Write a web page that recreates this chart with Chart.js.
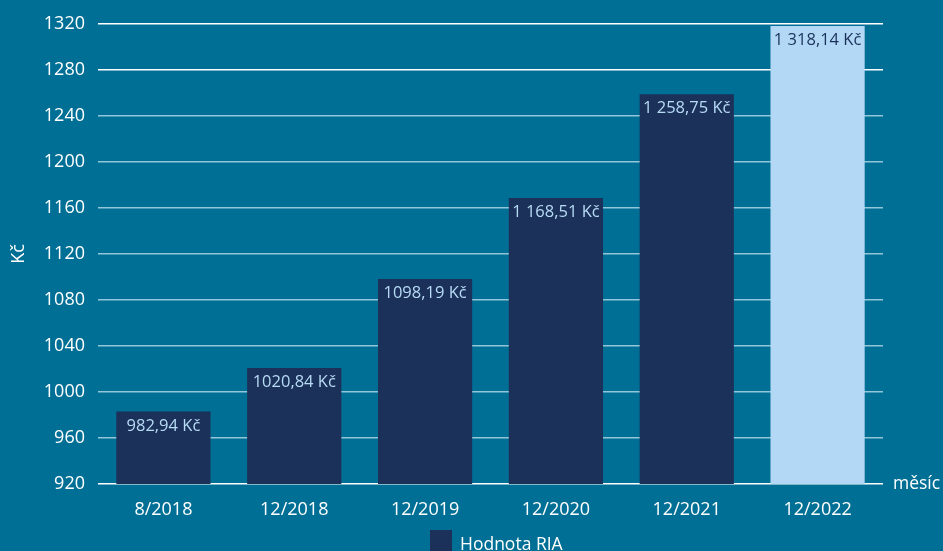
<!DOCTYPE html>
<html>
<head>
<meta charset="utf-8">
<script src="https://cdn.jsdelivr.net/npm/chart.js@4/dist/chart.umd.min.js"></script>
<style>
  html, body { margin: 0; padding: 0; background: #006f95; overflow: hidden; }
  #wrap { position: relative; width: 943px; height: 570px; }
</style>
</head>
<body>
<div id="wrap"><canvas id="bar-chart"></canvas></div>
<script>
const months = ["8/2018", "12/2018", "12/2019", "12/2020", "12/2021", "12/2022"];
const values = [982.94, 1020.84, 1098.19, 1168.51, 1258.75, 1318.14];
const valueLabels = ["982,94 Kč", "1020,84 Kč", "1098,19 Kč", "1 168,51 Kč", "1 258,75 Kč", "1 318,14 Kč"];
const barColors = ["#1b3159", "#1b3159", "#1b3159", "#1b3159", "#1b3159", "#b2d8f5"];
const labelColors = ["#b7dbf5", "#b7dbf5", "#b7dbf5", "#b7dbf5", "#b7dbf5", "#1b3159"];
const whiteLines = [920, 1260, 1280, 1320];
const seriesName = "Hodnota RIA";

const font = "'Open Sans', 'Noto Sans', sans-serif";

// value labels inside the bars, "měsíc" at the axis end, legend below
const extras = {
  id: "extras",
  afterDatasetsDraw(chart) {
    const ctx = chart.ctx;
    const meta = chart.getDatasetMeta(0);
    ctx.save();
    ctx.font = "16.5px " + font;
    ctx.textAlign = "center";
    ctx.textBaseline = "top";
    meta.data.forEach((bar, i) => {
      ctx.fillStyle = labelColors[i];
      ctx.fillText(valueLabels[i], bar.x, bar.y + 6);
    });
    const x = chart.scales.x;
    const y = chart.scales.y;
    ctx.font = "17.5px " + font;
    ctx.fillStyle = "#ffffff";
    ctx.textAlign = "left";
    ctx.textBaseline = "middle";
    ctx.fillText("měsíc", x.right + 10, y.getPixelForValue(920));

    // legend
    ctx.fillStyle = barColors[0];
    ctx.fillRect(430, 530, 22, 24);
    ctx.fillStyle = "#ffffff";
    ctx.textBaseline = "alphabetic";
    ctx.fillText(seriesName, 460, 550);
    ctx.restore();
  }
};

new Chart(document.getElementById("bar-chart"), {
  type: "bar",
  data: {
    labels: months,
    datasets: [{
      label: seriesName,
      data: values,
      backgroundColor: barColors,
      barPercentage: 0.72,
      categoryPercentage: 1
    }]
  },
  options: {
    responsive: true,
    maintainAspectRatio: false,
    animation: false,
    layout: { padding: { top: 22, right: 60, left: 0, bottom: 42 } },
    plugins: {
      legend: { display: false },
      tooltip: { enabled: false }
    },
    scales: {
      x: {
        grid: { display: false, drawTicks: false },
        border: { display: false },
        ticks: { color: "#ffffff", font: { family: font, size: 18 }, padding: 15 },
        afterFit: (s) => { s.height = 44; }
      },
      y: {
        min: 920,
        max: 1320,
        grid: {
          drawTicks: false,
          lineWidth: 1.5,
          color: (c) => whiteLines.includes(c.tick.value) ? "#ffffff" : "rgba(185,220,234,0.8)"
        },
        border: { display: false },
        title: {
          display: true,
          text: "Kč",
          color: "#ffffff",
          font: { family: font, size: 18 },
          padding: { top: 8, bottom: 0 }
        },
        ticks: {
          stepSize: 20,
          color: "#ffffff",
          font: { family: font, size: 18 },
          padding: 13,
          callback: (v) => (v - 920) % 40 === 0 ? v : ""
        },
        afterFit: (s) => { s.width = 98; }
      }
    }
  },
  plugins: [extras]
});
</script>
</body>
</html>
